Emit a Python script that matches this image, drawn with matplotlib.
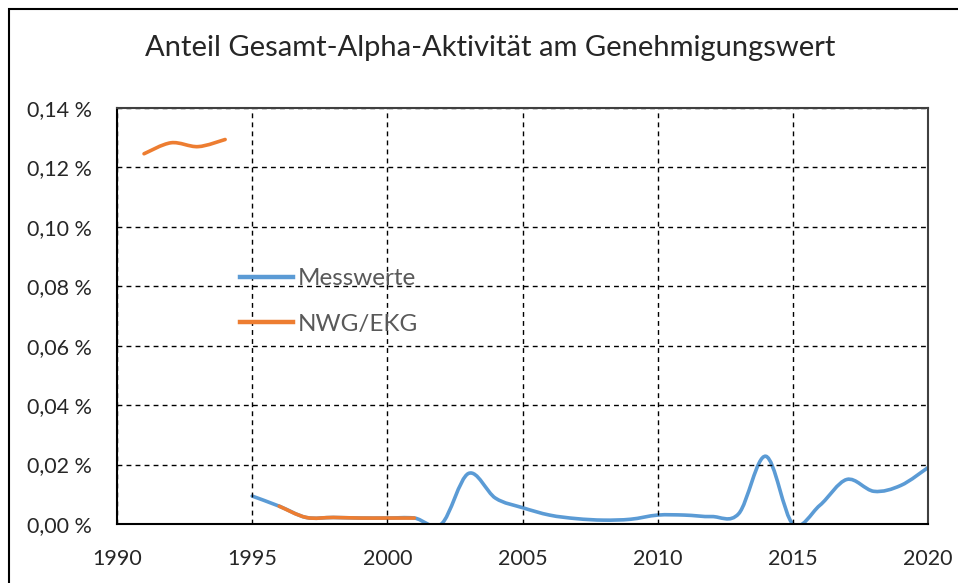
### Anteil Gesamt-Alpha-Aktivitaet am Genehmigungswert
# smoothed lines like the Excel original

import numpy as np
import matplotlib.pyplot as plt
from matplotlib.path import Path
from matplotlib.patches import PathPatch, Rectangle
from matplotlib.lines import Line2D
from matplotlib.ticker import FuncFormatter

plt.rcParams['font.family'] = ['Lato', 'DejaVu Sans']

# data (percent of approval value)
mess_years = list(range(1995, 2021))
mess_values = [0.0094, 0.0060, 0.0022, 0.0022, 0.0020, 0.0020, 0.0020,
               0.0000, 0.0170, 0.0087, 0.0055, 0.0030, 0.0018, 0.0013,
               0.0016, 0.0030, 0.0030, 0.0025, 0.0035, 0.0228, 0.0000,
               0.0063, 0.0150, 0.0110, 0.0130, 0.0190]

nwg_years_a = [1991, 1992, 1993, 1994]
nwg_values_a = [0.1246, 0.1283, 0.1270, 0.1294]
nwg_years_b = [1996, 1997, 1998, 1999, 2000, 2001]
nwg_values_b = [0.0060, 0.0022, 0.0022, 0.0020, 0.0020, 0.0020]

blue = '#5B9BD5'
orange = '#ED7D31'
grey = '#595959'


def smooth_path(xs, ys):
    # catmull-rom style bezier, similar to excel "smoothed line"
    x = np.asarray(xs, float)
    y = np.asarray(ys, float)
    n = len(x)
    verts = [(x[0], y[0])]
    codes = [Path.MOVETO]
    for i in range(n - 1):
        i0 = max(i - 1, 0)
        i3 = min(i + 2, n - 1)
        c1 = (x[i] + (x[i+1] - x[i0]) / 6, y[i] + (y[i+1] - y[i0]) / 6)
        c2 = (x[i+1] - (x[i3] - x[i]) / 6, y[i+1] - (y[i3] - y[i]) / 6)
        verts += [c1, c2, (x[i+1], y[i+1])]
        codes += [Path.CURVE4] * 3
    return Path(verts, codes)


fig = plt.figure(figsize=(9.58, 5.83), dpi=100)
ax = fig.add_axes([117/958, 59/583, (928-117)/958, (524-108)/583])

ax.set_xlim(1990, 2020)
ax.set_ylim(0, 0.14)
ax.set_xticks(range(1990, 2021, 5))
ax.set_yticks(np.arange(0, 0.141, 0.02))
ax.yaxis.set_major_formatter(FuncFormatter(lambda v, p: f'{v:.2f} %'.replace('.', ',')))
ax.tick_params(length=0, labelsize=15.5, colors='#262626')
ax.tick_params(axis='y', pad=18)
ax.tick_params(axis='x', pad=18)

ax.grid(True, color='black', linestyle=(0, (3.5, 3)), linewidth=1)
for s in ax.spines.values():
    s.set_color('#404040')
    s.set_linewidth(1.5)
ax.spines['left'].set_color('black')
ax.spines['bottom'].set_color('black')

for xs, ys, col in [(mess_years, mess_values, blue),
                    (nwg_years_a, nwg_values_a, orange),
                    (nwg_years_b, nwg_values_b, orange)]:
    ax.add_patch(PathPatch(smooth_path(xs, ys), fill=False, edgecolor=col,
                           linewidth=2.6, capstyle='round', joinstyle='round'))

handles = [Line2D([], [], color=blue, lw=3.2), Line2D([], [], color=orange, lw=3.2)]
leg = ax.legend(handles, ['Messwerte', 'NWG/EKG'], loc='upper left',
                bbox_to_anchor=(0.152, 0.615), frameon=False, fontsize=17.5,
                handlelength=2.15, handletextpad=0.2, labelspacing=1.02,
                borderaxespad=0, borderpad=0)
for t in leg.get_texts():
    t.set_color(grey)

fig.text(0.512, 0.918, 'Anteil Gesamt-Alpha-Aktivität am Genehmigungswert',
         ha='center', va='center', fontsize=21, color='#262626')

fig.patches.append(Rectangle((9/958, -0.2), 1.2, 1 - 9/583 + 0.2,
                             transform=fig.transFigure, fill=False,
                             edgecolor='black', linewidth=1.5))

plt.savefig('out.png', dpi=100)
